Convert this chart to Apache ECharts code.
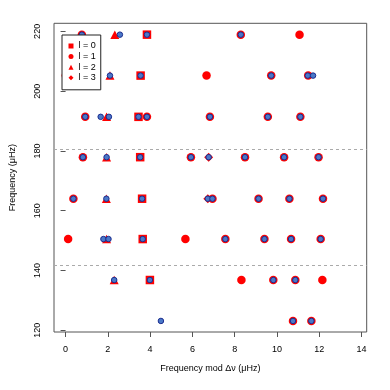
<!DOCTYPE html>
<html><head><meta charset="utf-8">
<script src="https://cdn.jsdelivr.net/npm/echarts@6/dist/echarts.min.js"></script>
<style>html,body{margin:0;padding:0;background:#fff}#c{width:390px;height:390px}</style>
</head><body><div id="c"></div>
<script>
// Tick labels
const xTicks = [0, 2, 4, 6, 8, 10, 12, 14];
const yTicks = [120, 140, 160, 180, 200, 220];
// Dashed guide lines (frequency, µHz)
const guideLines = [180.5, 141.9];

// Model modes, [freq mod Δν, frequency]
const l0 = [[3.85,218.9],[3.55,205.2],[3.45,191.4],[3.53,177.9],[3.62,164.0],[3.65,150.5],[3.99,136.8]];
const l1 = [
  [0.77,218.9],[8.29,218.9],[11.07,218.9],
  [0.01,205.2],[6.67,205.2],[9.73,205.2],[11.48,205.2],
  [0.93,191.4],[3.85,191.4],[6.83,191.4],[9.57,191.4],[11.11,191.4],
  [0.82,177.9],[5.93,177.9],[8.49,177.9],[10.34,177.9],[11.97,177.9],
  [0.37,164.0],[6.95,164.0],[9.13,164.0],[10.59,164.0],[12.18,164.0],
  [0.12,150.5],[5.67,150.5],[7.56,150.5],[9.41,150.5],[10.67,150.5],[12.07,150.5],
  [8.32,136.8],[9.83,136.8],[10.87,136.8],[12.15,136.8],
  [10.76,123.1],[11.63,123.1]
];
const l2 = [[2.33,218.9],[2.10,205.2],[1.94,191.4],[1.94,177.9],[1.93,164.0],[1.94,150.5],[2.30,136.8]];
const l3 = [[6.77,177.9],[6.73,164.0]];
// Observed frequencies
const observed = [
  [0.77,218.9],[2.57,218.9],[3.85,218.9],[8.29,218.9],
  [0.01,205.2],[2.10,205.2],[3.55,205.2],[9.73,205.2],[11.46,205.2],[11.71,205.2],
  [0.93,191.4],[1.66,191.4],[2.05,191.4],[3.45,191.4],[3.85,191.4],[6.83,191.4],[9.57,191.4],[11.11,191.4],
  [0.82,177.9],[1.94,177.9],[3.53,177.9],[5.93,177.9],[6.77,177.9],[8.49,177.9],[10.34,177.9],[11.97,177.9],
  [0.37,164.0],[1.93,164.0],[3.62,164.0],[6.73,164.0],[6.95,164.0],[9.13,164.0],[10.59,164.0],[12.18,164.0],
  [1.79,150.5],[2.03,150.5],[3.65,150.5],[7.56,150.5],[9.41,150.5],[10.67,150.5],[12.07,150.5],
  [2.30,136.8],[3.99,136.8],[9.83,136.8],[10.87,136.8],
  [4.51,123.1],[10.76,123.1],[11.63,123.1]
];

const FONT = 'Liberation Sans';
const chart = echarts.init(document.getElementById('c'), null, {renderer: 'canvas'});

function modelSeries(name, symbol, size, data) {
  return {type: 'scatter', name: name, symbol: symbol, symbolSize: size, data: data,
    itemStyle: {color: '#ff0000', opacity: 1}, z: 2, silent: true};
}

chart.setOption({
  animation: false,
  backgroundColor: '#ffffff',
  textStyle: {fontFamily: FONT},
  grid: {left: 50, right: 23.3, top: 23.3, bottom: 58, show: true, borderColor: '#555', borderWidth: 1, backgroundColor: 'transparent'},
  legend: {
    data: ['l = 0', 'l = 1', 'l = 2', 'l = 3'],
    orient: 'vertical', left: 62, top: 35,
    padding: [6, 5, 7, 6.5],
    itemWidth: 5, itemHeight: 5, itemGap: 0.6,
    backgroundColor: '#fff', borderColor: '#222', borderWidth: 1, borderRadius: 0,
    textStyle: {fontFamily: FONT, fontSize: 9, color: '#000', lineHeight: 10},
    selectedMode: false, z: 10
  },
  xAxis: {
    type: 'value', min: -0.548, max: 14.248,
    name: 'Frequency mod \u0394\u03bd (\u03bcHz)', nameLocation: 'middle', nameGap: 32,
    nameTextStyle: {fontFamily: FONT, fontSize: 9, color: '#000'},
    axisLine: {show: false},
    axisTick: {show: true, inside: false, length: 5, customValues: xTicks, lineStyle: {color: '#555'}},
    axisLabel: {show: true, customValues: xTicks, margin: 13, fontFamily: FONT, fontSize: 9, color: '#000'},
    splitLine: {show: false}
  },
  yAxis: {
    type: 'value', min: 119.4, max: 222.7,
    name: 'Frequency (\u03bcHz)', nameLocation: 'middle', nameGap: 37, nameRotate: 90,
    nameTextStyle: {fontFamily: FONT, fontSize: 9, color: '#000'},
    axisLine: {show: false},
    axisTick: {show: true, inside: false, length: 5, customValues: yTicks, lineStyle: {color: '#555'}},
    axisLabel: {show: true, customValues: yTicks, rotate: 90, margin: 12, fontFamily: FONT, fontSize: 9, color: '#000'},
    splitLine: {show: false}
  },
  series: [
    {type: 'scatter', name: 'guides', data: [], silent: true,
      markLine: {silent: true, symbol: ['none', 'none'], label: {show: false},
        lineStyle: {color: '#aaaaaa', type: [3, 3], width: 1},
        data: guideLines.map(v => ({yAxis: v}))}},
    modelSeries('l = 0', 'rect', 8.5, l0),
    modelSeries('l = 1', 'circle', 8.5, l1),
    modelSeries('l = 2', 'triangle', [9, 8.5], l2),
    modelSeries('l = 3', 'diamond', 9, l3),
    {type: 'scatter', name: 'observed', symbol: 'circle', symbolSize: 5.5, data: observed, z: 3, silent: true,
      itemStyle: {color: '#4a78c8', borderColor: '#1c2d8f', borderWidth: 1, opacity: 1}}
  ]
});
</script>
</body></html>
